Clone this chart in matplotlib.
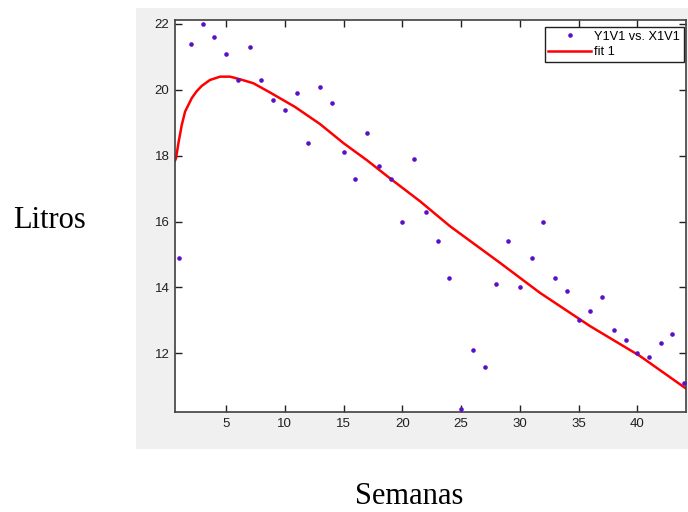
import numpy as np
import matplotlib.pyplot as plt
from matplotlib.patches import Rectangle

# datos: semanas vs litros
semanas = np.arange(1, 45)
litros = [14.9, 21.4, 22.0, 21.6, 21.1, 20.3, 21.3, 20.3, 19.7, 19.4,
          19.9, 18.4, 20.1, 19.6, 18.1, 17.3, 18.7, 17.7, 17.3, 16.0,
          17.9, 16.3, 15.4, 14.3, 10.3, 12.1, 11.6, 14.1, 15.4, 14.0,
          14.9, 16.0, 14.3, 13.9, 13.0, 13.3, 13.7, 12.7, 12.4, 12.0,
          11.9, 12.3, 12.6, 11.1]

# curva ajustada
fit_x = [0.65, 0.74, 0.94, 1.23, 1.51, 2.08, 2.5, 2.93, 3.63, 4.49, 5.34,
         6.19, 7.32, 8.74, 10.87, 13.0, 15.0, 17.0, 19.0, 21.5, 24.06,
         28.31, 31.71, 35.97, 40.23, 44.2]
fit_y = [17.85, 17.93, 18.38, 18.94, 19.34, 19.75, 19.96, 20.12, 20.30,
         20.40, 20.40, 20.32, 20.20, 19.92, 19.48, 18.96, 18.38, 17.86,
         17.30, 16.62, 15.86, 14.75, 13.84, 12.83, 11.92, 10.92]

W, H = 688, 512
fig = plt.figure(figsize=(W/100, H/100), dpi=100)
fig.patch.set_facecolor('white')

# panel gris de fondo (estilo cftool)
fig.patches.append(Rectangle((136/W, 1 - 449/H), (688-136)/W, (449-8)/H,
                             transform=fig.transFigure, facecolor='#f0f0f0',
                             edgecolor='none', zorder=-10))

ax = fig.add_axes([175/W, 1 - 412/H, (686-175)/W, (412-20)/H])
ax.set_facecolor('white')

ax.plot(semanas, litros, 'o', color='#5a0fc8', markersize=3.3,
        markeredgewidth=0, label='Y1V1 vs. X1V1', zorder=3)
ax.plot(fit_x, fit_y, '-', color='#ff0000', linewidth=1.8, label='fit 1',
        zorder=2)

ax.set_xlim(0.65, 44.15)
ax.set_ylim(10.22, 22.12)
ax.set_xticks([5, 10, 15, 20, 25, 30, 35, 40])
ax.set_yticks([12, 14, 16, 18, 20, 22])

ax.tick_params(direction='in', length=5, width=1, top=True, right=True,
               labelsize=9.5, colors='#202020', pad=4)
for lab in ax.get_xticklabels() + ax.get_yticklabels():
    lab.set_fontfamily('Liberation Sans')
for s in ax.spines.values():
    s.set_color('#404040')
    s.set_linewidth(1.2)

leg = ax.legend(loc='upper right', bbox_to_anchor=(684/W, 1 - 27/H),
                bbox_transform=fig.transFigure, borderaxespad=0,
                fancybox=False, framealpha=1, edgecolor='#202020',
                prop={'family': 'Liberation Sans', 'size': 9.2},
                handlelength=3.3, borderpad=0.3, labelspacing=0.25,
                handletextpad=0.3)
leg.get_frame().set_linewidth(1.0)

fig.text(50/W, 1 - 220/H, 'Litros', fontsize=22, family='Liberation Serif',
         ha='center', va='center')
fig.text(409/W, 1 - 496/H, 'Semanas', fontsize=22, family='Liberation Serif',
         ha='center', va='center')

plt.savefig('out.png', dpi=100)
